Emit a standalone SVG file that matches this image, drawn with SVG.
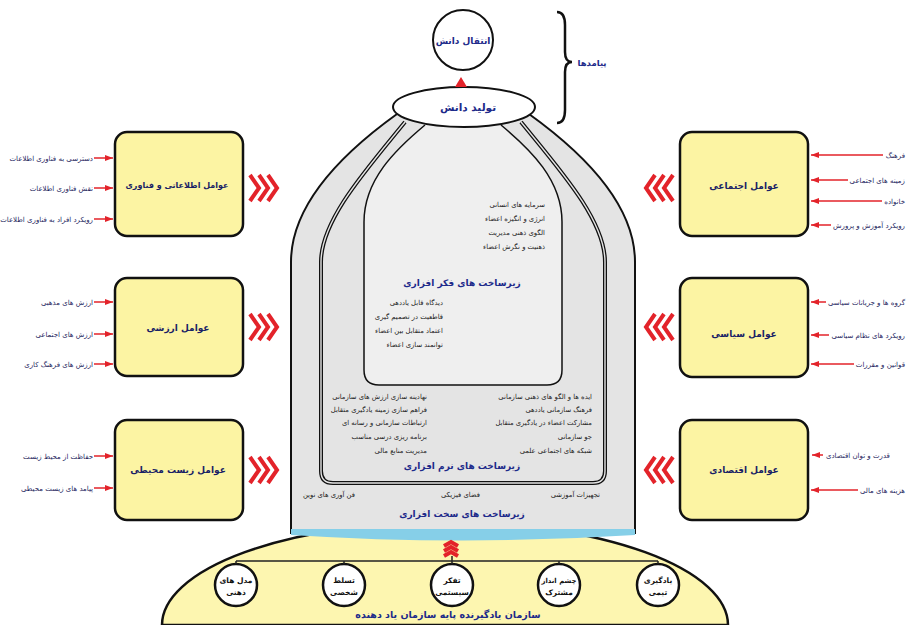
<svg xmlns="http://www.w3.org/2000/svg" width="906" height="625" viewBox="0 0 906 625">
<defs>
<marker id="ar" viewBox="0 0 8 6" refX="8" refY="3" markerWidth="8" markerHeight="6" markerUnits="userSpaceOnUse" orient="auto"><path d="M0,0 L8,3 L0,6 Z" fill="#e3232a"/></marker>
</defs>
<style>
text{font-family:"DejaVu Sans",sans-serif;}
.box{fill:#fcf4a3;stroke:#111;stroke-width:2.5;}
.bl{font-size:9px;font-weight:bold;fill:#1a1f66;text-anchor:middle;}
.sl{font-size:7px;fill:#1c1c5c;}
.it{font-size:6.8px;fill:#222;text-anchor:end;}
.hd{font-size:9px;font-weight:bold;fill:#1d2a8a;text-anchor:middle;}
.arr{stroke:#e3232a;stroke-width:1.5;fill:none;marker-end:url(#ar);}
.chev{stroke:#e3232a;stroke-width:4;fill:none;}
.cl{font-size:7.5px;font-weight:bold;fill:#111;text-anchor:middle;}
.ln{stroke:#222;stroke-width:1.5;fill:none;}
.dc{fill:#fff;stroke:#111;stroke-width:2.5;}
</style>
<rect width="906" height="625" fill="#fff"/>

<!-- bottom dome -->
<g id="learning-org">
<path d="M162,625 A283,103 0 0 1 728,625 Z" fill="#fdf6b0" stroke="#111" stroke-width="2.5"/>
<text x="448" y="618" style="font-size:9.5px;font-weight:bold;fill:#1d2a8a;text-anchor:middle">سازمان یادگیرنده پایه سازمان یاد دهنده</text>
</g>

<!-- bell -->
<g id="hardware">
<path d="M397,114 C340,155 291,205 291,262 L291,533 L635,533 L635,262 C635,205 586,155 529,114 Z" fill="#e4e4e4" stroke="#111" stroke-width="2"/>
<path d="M291,529 L635,529 L635,535 Q463,546 291,535 Z" fill="#86cfe8"/>
<text class="it" x="355" y="497">فن آوری های نوین</text>
<text class="it" x="480" y="497">فضای فیزیکی</text>
<text class="it" x="600" y="497">تجهیزات آموزشی</text>
<text class="hd" x="462" y="517">زیرساخت های سخت افزاری</text>
</g>
<g id="software">
<path d="M405,122 C366,170 321,220 321,262 L321,471 Q321,483 333,483 L593,483 Q605,483 605,471 L605,262 C605,220 560,170 521,122" fill="none" stroke="#111" stroke-width="4"/>
<path d="M405,122 C366,170 321,220 321,262 L321,471 Q321,483 333,483 L593,483 Q605,483 605,471 L605,262 C605,220 560,170 521,122" fill="none" stroke="#e4e4e4" stroke-width="1.4"/>
<text class="it" x="427" y="399">نهادینه سازی ارزش های سازمانی</text>
<text class="it" x="427" y="412">فراهم سازی زمینه یادگیری متقابل</text>
<text class="it" x="427" y="425">ارتباطات سازمانی و رسانه ای</text>
<text class="it" x="427" y="439">برنامه ریزی درسی مناسب</text>
<text class="it" x="427" y="453">مدیریت منابع مالی</text>
<text class="it" x="592" y="399">ایده ها و الگو های ذهنی سازمانی</text>
<text class="it" x="592" y="412">فرهنگ سازمانی یاددهی</text>
<text class="it" x="592" y="425">مشارکت اعضاء در یادگیری متقابل</text>
<text class="it" x="592" y="439">جو سازمانی</text>
<text class="it" x="592" y="453">شبکه های اجتماعی علمی</text>
<text class="hd" x="462" y="469">زیرساخت های نرم افزاری</text>
</g>
<g id="thinking">
<path d="M425,125 C395,150 364,180 364,222 L364,370 Q364,385 379,385 L547,385 Q562,385 562,370 L562,222 C562,180 531,150 501,125" fill="#efefef" stroke="#111" stroke-width="1.5"/>
<text class="it" x="545" y="207">سرمایه های انسانی</text>
<text class="it" x="545" y="221">انرژی و انگیزه اعضاء</text>
<text class="it" x="545" y="235">الگوی ذهنی مدیریت</text>
<text class="it" x="545" y="249">ذهنیت و نگرش اعضاء</text>
<text class="hd" x="462" y="286">زیرساخت های فکر افزاری</text>
<text class="it" x="443" y="305">دیدگاه قابل یاددهی</text>
<text class="it" x="443" y="319">قاطعیت در تصمیم گیری</text>
<text class="it" x="443" y="333">اعتماد متقابل بین اعضاء</text>
<text class="it" x="443" y="347">توانمند سازی اعضاء</text>
</g>

<g id="knowledge-production">
<ellipse cx="464" cy="107" rx="71" ry="20" fill="#fff" stroke="#111" stroke-width="2"/>
<text x="468" y="111" style="font-size:10.5px;font-weight:bold;fill:#1d2a8a;text-anchor:middle">تولید دانش</text>
</g>
<g id="knowledge-transfer">
<circle cx="463" cy="40" r="30" fill="#fff" stroke="#111" stroke-width="2"/>
<text x="463" y="44" style="font-size:9px;font-weight:bold;fill:#1d2a8a;text-anchor:middle">انتقال دانش</text>
</g>
<g id="outcomes">
<path d="M557,12 Q565,12 565,25 L565,52 Q565,62 572,62 Q565,62 565,72 L565,110 Q565,123 557,123" fill="none" stroke="#111" stroke-width="2.5"/>
<text x="592" y="66" style="font-size:8.5px;font-weight:bold;fill:#1d2a8a;text-anchor:middle">پیامدها</text>
</g>

<!-- left boxes -->
<g id="info-tech">
<rect class="box" x="115" y="132" width="128" height="104" rx="12"/>
<text class="bl" x="177" y="188" style="font-size:8px">عوامل اطلاعاتی و فناوری</text>
<text class="sl" x="93" y="161" text-anchor="end">دسترسی به فناوری اطلاعات</text>
<text class="sl" x="93" y="191" text-anchor="end">نقش فناوری اطلاعات</text>
<text class="sl" x="93" y="222" text-anchor="end">رویکرد افراد به فناوری اطلاعات</text>
</g>
<g id="values">
<rect class="box" x="115" y="278" width="128" height="98" rx="12"/>
<text class="bl" x="178" y="331">عوامل ارزشی</text>
<text class="sl" x="93" y="305" text-anchor="end">ارزش های مذهبی</text>
<text class="sl" x="93" y="337" text-anchor="end">ارزش های اجتماعی</text>
<text class="sl" x="93" y="367" text-anchor="end">ارزش های فرهنگ کاری</text>
</g>
<g id="environment">
<rect class="box" x="115" y="420" width="128" height="100" rx="12"/>
<text class="bl" x="178" y="473">عوامل زیست محیطی</text>
<text class="sl" x="93" y="459" text-anchor="end">حفاظت از محیط زیست</text>
<text class="sl" x="93" y="491" text-anchor="end">پیامد های زیست محیطی</text>
</g>
<!-- right boxes -->
<g id="social">
<rect class="box" x="680" y="132" width="128" height="104" rx="12"/>
<text class="bl" x="744" y="189">عوامل اجتماعی</text>
<text class="sl" x="905" y="158" text-anchor="end">فرهنگ</text>
<text class="sl" x="905" y="183" text-anchor="end">زمینه های اجتماعی</text>
<text class="sl" x="905" y="204" text-anchor="end">خانواده</text>
<text class="sl" x="905" y="228" text-anchor="end">رویکرد آموزش و پرورش</text>
</g>
<g id="political">
<rect class="box" x="680" y="278" width="128" height="99" rx="12"/>
<text class="bl" x="744" y="337">عوامل سیاسی</text>
<text class="sl" x="905" y="305" text-anchor="end">گروه ها و جریانات سیاسی</text>
<text class="sl" x="905" y="338" text-anchor="end">رویکرد های نظام سیاسی</text>
<text class="sl" x="905" y="367" text-anchor="end">قوانین و مقررات</text>
</g>
<g id="economic">
<rect class="box" x="680" y="420" width="128" height="100" rx="12"/>
<text class="bl" x="744" y="473">عوامل اقتصادی</text>
<text class="sl" x="826" y="458">قدرت و توان اقتصادی</text>
<text class="sl" x="905" y="493" text-anchor="end">هزینه های مالی</text>
</g>

<!-- disciplines -->
<g id="d1"><circle class="dc" cx="236" cy="585" r="21"/><text class="cl" x="236" y="583">مدل های</text><text class="cl" x="236" y="595">ذهنی</text></g>
<g id="d2"><circle class="dc" cx="344" cy="585" r="21"/><text class="cl" x="344" y="583">تسلط</text><text class="cl" x="344" y="595">شخصی</text></g>
<g id="d3"><circle class="dc" cx="452" cy="585" r="21"/><text class="cl" x="452" y="583">تفکر</text><text class="cl" x="452" y="595">سیستمی</text></g>
<g id="d4"><circle class="dc" cx="559" cy="585" r="21"/><text class="cl" x="559" y="583" style="font-size:6.9px">چشم انداز</text><text class="cl" x="559" y="595">مشترک</text></g>
<g id="d5"><circle class="dc" cx="658" cy="585" r="21"/><text class="cl" x="658" y="583">یادگیری</text><text class="cl" x="658" y="595">تیمی</text></g>

<g id="connectors">
<path d="M461,77 L467,87 L455,87 Z" fill="#e3232a"/>
<path class="ln" d="M236,561 L658,561 M236,561 V564 M344,561 V564 M452,556 V564 M559,561 V564 M658,561 V564"/>
<path class="chev" stroke-width="2" d="M444,546 L451,542 L458,546 M444,551 L451,547 L458,551 M444,556 L451,552 L458,556"/>
<path class="chev" d="M250,175 L259,188 L250,201 M259,175 L268,188 L259,201 M268,175 L277,188 L268,201"/>
<path class="chev" d="M250,314 L259,327 L250,340 M259,314 L268,327 L259,340 M268,314 L277,327 L268,340"/>
<path class="chev" d="M250,457 L259,470 L250,483 M259,457 L268,470 L259,483 M268,457 L277,470 L268,483"/>
<path class="chev" d="M673,175 L664,188 L673,201 M664,175 L655,188 L664,201 M655,175 L646,188 L655,201"/>
<path class="chev" d="M673,314 L664,327 L673,340 M664,314 L655,327 L664,340 M655,314 L646,327 L655,340"/>
<path class="chev" d="M673,457 L664,470 L673,483 M664,457 L655,470 L664,483 M655,457 L646,470 L655,483"/>
<line class="arr" x1="94" y1="158" x2="113" y2="158"/>
<line class="arr" x1="94" y1="188" x2="113" y2="188"/>
<line class="arr" x1="94" y1="219" x2="113" y2="219"/>
<line class="arr" x1="94" y1="302" x2="113" y2="302"/>
<line class="arr" x1="94" y1="334" x2="113" y2="334"/>
<line class="arr" x1="94" y1="364" x2="113" y2="364"/>
<line class="arr" x1="94" y1="456" x2="113" y2="456"/>
<line class="arr" x1="94" y1="488" x2="113" y2="488"/>
<line class="arr" x1="883" y1="155" x2="811" y2="155"/>
<line class="arr" x1="848" y1="180" x2="811" y2="180"/>
<line class="arr" x1="882" y1="201" x2="811" y2="201"/>
<line class="arr" x1="831" y1="225" x2="811" y2="225"/>
<line class="arr" x1="826" y1="302" x2="811" y2="302"/>
<line class="arr" x1="829" y1="335" x2="811" y2="335"/>
<line class="arr" x1="854" y1="364" x2="811" y2="364"/>
<line class="arr" x1="823" y1="455" x2="812" y2="455"/>
<line class="arr" x1="858" y1="490" x2="811" y2="490"/>
</g>
</svg>
